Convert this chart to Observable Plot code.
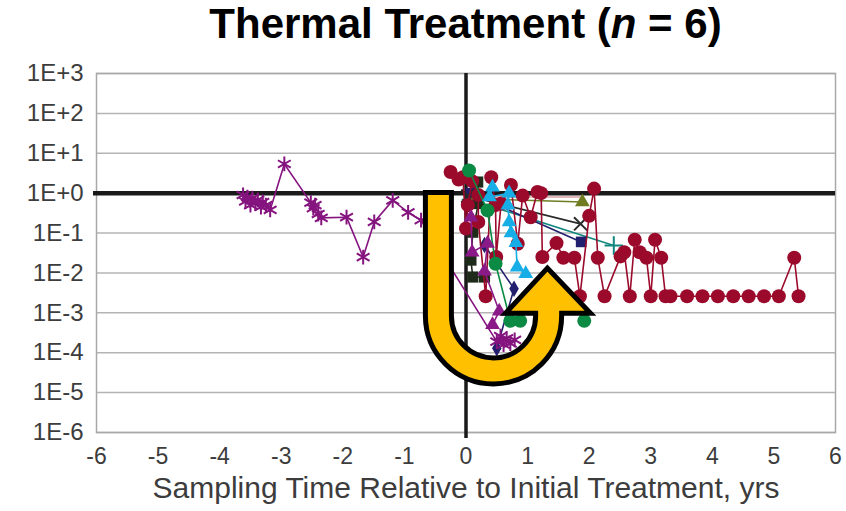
<!DOCTYPE html>
<html><head><meta charset="utf-8">
<script src="https://cdn.jsdelivr.net/npm/d3@7"></script>
<script src="https://cdn.jsdelivr.net/npm/@observablehq/plot@0.6"></script>
<style>
body{margin:0;background:#fff;}
#title{margin-left:96px;width:739px;height:56px;line-height:56px;text-align:center;font:bold 42px "Liberation Sans",Arial,sans-serif;color:#000;white-space:nowrap;}
</style></head><body>
<div id="title">Thermal Treatment (<i>n</i> = 6)</div>
<div id="chart"></div>
<script>
// ---- axis data ----
const xTicks = [-6,-5,-4,-3,-2,-1,0,1,2,3,4,5,6];
const yTicks = [1e3,1e2,1e1,1,1e-1,1e-2,1e-3,1e-4,1e-5,1e-6];
const yTickLabels = ["1E+3","1E+2","1E+1","1E+0","1E-1","1E-2","1E-3","1E-4","1E-5","1E-6"];
const xLabel = "Sampling Time Relative to Initial Treatment, yrs";

// ---- series data (t in yrs, v = relative concentration) ----
const purpleT = [-3.62,-3.58,-3.55,-3.5,-3.47,-3.42,-3.38,-3.33,-3.3,-3.25,-3.18,-2.95,-2.52,-2.48,-2.45,-2.4,-2.35,-1.94,-1.67,-1.49,-1.19,-0.94,-0.73,0.5,0.56,0.61,0.66,0.72,0.79];
const purpleV = [0.9,0.62,0.8,0.5,0.75,0.55,0.68,0.45,0.6,0.5,0.38,5.4,0.58,0.42,0.5,0.3,0.24,0.25,0.025,0.19,0.66,0.33,0.21,1.9e-4,2.6e-4,1.6e-4,2.3e-4,1.7e-4,2.1e-4];

const redT = [-0.25,-0.12,-0.05,0.0,0.03,0.1,0.2,0.2,0.32,0.41,0.48,0.49,0.57,0.73,0.84,0.92,1.05,1.16,1.22,1.24,1.47,1.58,1.76,1.85,2.0,2.08,2.14,2.25,2.51,2.57,2.66,2.74,2.82,2.93,3.0,3.07,3.17,3.24,3.32,3.59,3.84,4.09,4.34,4.59,4.84,5.08,5.33,5.4];
const redV = [3.4,2.2,2.5,0.13,0.5,2.0,0.9,0.19,0.0026,2.5,0.5,0.025,0.55,1.6,0.054,0.87,0.25,1.07,1.0,0.025,0.056,0.024,0.024,0.0026,0.27,1.3,0.024,0.0026,0.026,0.033,0.0026,0.068,0.033,0.024,0.0026,0.068,0.024,0.0026,0.0026,0.0026,0.0026,0.0026,0.0026,0.0026,0.0026,0.0026,0.024,0.0026];

const greenT = [0.05,0.35,0.48,0.72,0.88];
const greenV = [3.7,0.37,0.017,6.3e-4,6.3e-4];
const green2T = [1.92];
const green2V = [6.3e-4];

const dkT = [0.19,0.2,0.11,0.08,0.11,0.3];
const dkV = [1.9,0.55,0.105,0.021,0.0079,0.0079];

const magT = [0.08,0.1,0.35,0.3,0.54,0.43];
const magV = [0.25,0.033,0.055,0.011,1.1e-3,5e-4];

const blueT = [0.43,0.38,0.7,0.68,0.7,0.73,0.81,0.83,0.97];
const blueV = [1.4,0.8,1.0,0.5,0.19,0.1,0.057,0.014,0.0095];

const oliveT = [0.16,1.89];
const oliveV = [0.72,0.6];

const crossT = [0.03,1.86];
const crossV = [0.85,0.17];

const navyT = [0.08,1.87];
const navyV = [1.0,0.06];
const navy2T = [0.3,0.78,0.5];
const navy2V = [0.05,0.004,1.3e-4];

const tealT = [0.08,2.4];
const tealV = [0.68,0.049];

const pinkT = [0.15,1.85];
const pinkV = [0.8,0.8];

// arrow annotation anchors (data units)
const arrowLeftT = -0.44, arrowRightT = 1.35;
const arrowTopV = 0.87, arrowBottomV = 3.4e-5;
const arrowTip = [1.33, 0.0129];
const arrowBaseV = 9.5e-4, arrowWingL = 0.65, arrowWingR = 2.03;

const series = [
  {t:pinkT, v:pinkV, color:"#d9a3a3", symbol:null},
  {t:tealT, v:tealV, color:"#12877f", symbol:"plus", r:6, stroked:true},
  {t:navyT, v:navyV, color:"#22206e", symbol:"square", r:6},
  {t:navy2T, v:navy2V, color:"#22206e", symbol:"diamond", r:5},
  {t:crossT, v:crossV, color:"#2a2a2a", symbol:"times", r:6, stroked:true},
  {t:oliveT, v:oliveV, color:"#6f7c22", symbol:"triangle", r:5.5},
  {t:dkT, v:dkV, color:"#1e2b1a", symbol:"square", r:6.3},
  {t:redT, v:redV, color:"#9b0a2b", symbol:"circle", r:7},
  {t:greenT, v:greenV, color:"#0b8a43", symbol:"circle", r:7},
  {t:green2T, v:green2V, color:"#0b8a43", symbol:"circle", r:7},
  {t:magT, v:magV, color:"#8b1a89", symbol:"triangle", r:5.5},
  {t:blueT, v:blueV, color:"#17ade6", symbol:"triangle", r:5.5},
  {t:purpleT, v:purpleV, color:"#85147f", symbol:"asterisk", r:7, stroked:true}
];

const seriesMarks = series.flatMap(s => {
  const rows = s.t.map((t,i) => ({t, v: s.v[i]}));
  const m = [Plot.line(rows, {x:"t", y:"v", stroke:s.color, strokeWidth:1.6})];
  if (s.symbol) {
    m.push(s.stroked
      ? Plot.dot(rows, {x:"t", y:"v", symbol:s.symbol, r:s.r, stroke:s.color, strokeWidth:2, fill:"none"})
      : Plot.dot(rows, {x:"t", y:"v", symbol:s.symbol, r:s.r, fill:s.color, stroke:"none"}));
  }
  return m;
});

const plot = Plot.plot({
  width: 846, height: 455,
  marginLeft: 96, marginRight: 11, marginTop: 17, marginBottom: 79,
  style: {fontFamily: '"Liberation Sans", Arial, sans-serif', fontSize: "24px", color: "#3c3c3c", background: "#fff"},
  x: {domain: [-6, 6]},
  y: {type: "log", domain: [1e-6, 1e3]},
  marks: [
    Plot.ruleY(yTicks, {stroke: "#b4b4b4", strokeWidth: 1.5}),
    Plot.frame({stroke: "#a8a8a8", strokeWidth: 1.5}),
    Plot.ruleY([1], {stroke: "#1a1a1a", strokeWidth: 4.5, insetLeft: -3}),
    Plot.ruleX([0], {stroke: "#1a1a1a", strokeWidth: 3.5, insetBottom: -6}),
    ...seriesMarks,
    Plot.axisX(xTicks, {tickSize: 0, tickPadding: 15, tickFormat: d => String(d), fontSize: 23, label: null}),
    Plot.axisY(yTicks, {tickSize: 0, tickPadding: 13, tickFormat: d => yTickLabels[yTicks.indexOf(d)], fontSize: 24, label: null}),
    Plot.text([xLabel], {frameAnchor: "bottom", dy: 65, fontSize: 30, fill: "#3c3c3c"})
  ]
});

// U-turn arrow annotation, positioned via the plot's own scales
const X = plot.scale("x"), Y = plot.scale("y");
const xl = X.apply(arrowLeftT), xr = X.apply(arrowRightT);
const yTop = Y.apply(arrowTopV), yBot = Y.apply(arrowBottomV);
const rad = (xr - xl) / 2, cy = yBot - rad;
const yBase = Y.apply(arrowBaseV);
const g = d3.select(plot).append("g");
const armPath = (y0, y1) => `M${xl},${y0}L${xl},${cy}A${rad},${rad} 0 0 0 ${xr},${cy}L${xr},${y1}`;
g.append("path").attr("d", armPath(yTop - 5, yBase)).attr("fill","none").attr("stroke","#000").attr("stroke-width", 31);
g.append("path")
  .attr("d", `M${X.apply(arrowWingL)},${yBase}L${X.apply(arrowTip[0])},${Y.apply(arrowTip[1])}L${X.apply(arrowWingR)},${yBase}Z`)
  .attr("fill","#ffc000").attr("stroke","#000").attr("stroke-width", 5).attr("stroke-linejoin","miter");
g.append("path").attr("d", armPath(yTop, yBase - 4)).attr("fill","none").attr("stroke","#ffc000").attr("stroke-width", 21);

document.getElementById("chart").appendChild(plot);
</script></body></html>
